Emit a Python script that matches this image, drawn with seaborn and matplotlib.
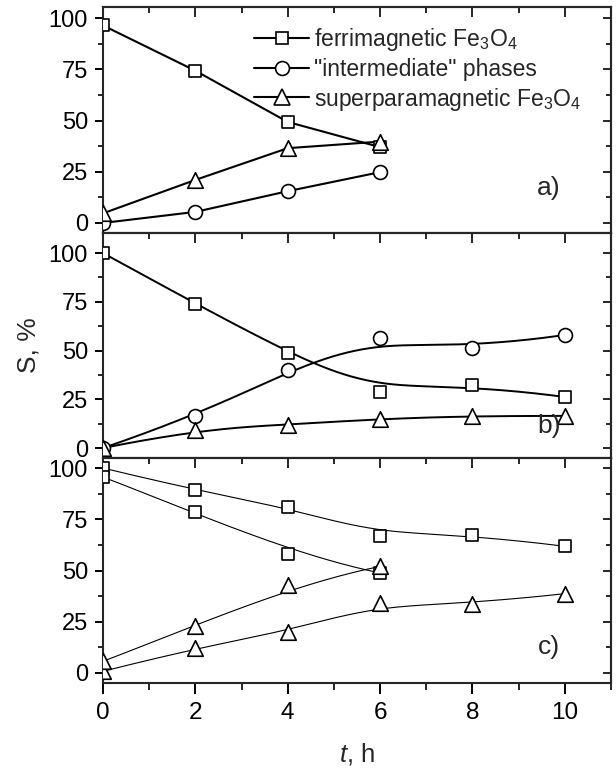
import numpy as np
import matplotlib
matplotlib.use("Agg")
import matplotlib.pyplot as plt
from matplotlib.lines import Line2D
from matplotlib.ticker import MultipleLocator, NullFormatter
import seaborn as sns

# --- data (S, % vs t, h) ---
t_a = [0, 2, 4, 6]
ferri_a = [96.4, 74.3, 49.3, 37.0]
inter_a = [0.0, 5.4, 15.5, 24.8]
super_a = [4.7, 21.0, 36.5, 39.7]

t_b = [0, 2, 4, 6, 8, 10]
ferri_b = [100.0, 74.1, 48.6, 28.7, 32.5, 26.2]
inter_b = [0.0, 16.3, 39.8, 56.3, 51.2, 58.0]
super_b = [0.0, 9.5, 12.0, 15.0, 16.5, 16.5]

t_c_long = [0, 2, 4, 6, 8, 10]
ferri_c_long = [100.0, 89.1, 81.0, 67.0, 67.5, 61.8]
super_c_long = [0.8, 12.2, 20.0, 34.1, 33.7, 38.7]
t_c_short = [0, 2, 4, 6]
ferri_c_short = [95.6, 78.4, 58.2, 48.8]
super_c_short = [5.7, 22.8, 42.8, 52.0]

labels = ["ferrimagnetic Fe$_3$O$_4$", '"intermediate" phases',
          "superparamagnetic Fe$_3$O$_4$"]
panel_tags = ["a)", "b)", "c)"]

sns.set_theme(style="ticks")
plt.rcParams["font.family"] = ["Liberation Sans", "DejaVu Sans"]
plt.rcParams["mathtext.fontset"] = "custom"
plt.rcParams["mathtext.rm"] = "Liberation Sans"
plt.rcParams["mathtext.it"] = "Liberation Sans:italic"
plt.rcParams["axes.linewidth"] = 1.5

MARK = {"s": 80, "o": 100, "^": 125}


def bspline(xs, ys, num=300):
    """Clamped B-spline curve using the points as control points (Origin style)."""
    P = np.column_stack([xs, ys]).astype(float)
    n = len(P)
    k = min(3, n - 1)
    knots = np.concatenate([np.zeros(k), np.arange(n - k + 1), np.full(k, n - k)])
    u = np.linspace(0, n - k, num)
    B = np.zeros((num, len(knots) - 1))
    for i in range(len(knots) - 1):
        B[:, i] = (u >= knots[i]) & (u < knots[i + 1])
    last = np.where(knots[:-1] < knots[1:])[0][-1]
    B[u >= knots[-1], last] = 1
    for p in range(1, k + 1):
        Bn = np.zeros((num, len(knots) - 1 - p))
        for i in range(len(knots) - 1 - p):
            d1 = knots[i + p] - knots[i]
            d2 = knots[i + p + 1] - knots[i + 1]
            t1 = (u - knots[i]) / d1 * B[:, i] if d1 > 0 else 0
            t2 = (knots[i + p + 1] - u) / d2 * B[:, i + 1] if d2 > 0 else 0
            Bn[:, i] = t1 + t2
        B = Bn
    return B @ P


def draw_series(ax, x, y, marker, lw, smooth):
    if smooth:
        c = bspline(x, y)
        sns.lineplot(x=c[:, 0], y=c[:, 1], ax=ax, color="black", lw=lw,
                     estimator=None, sort=False, zorder=2)
    else:
        sns.lineplot(x=x, y=y, ax=ax, color="black", lw=lw,
                     estimator=None, sort=False, zorder=2)
    sns.scatterplot(x=x, y=y, ax=ax, marker=marker, s=MARK[marker],
                    facecolor="white", edgecolor="black", linewidth=1.2,
                    zorder=3)


fig = plt.figure(figsize=(6.16, 7.73), dpi=100)
left, width = 103 / 616, 508 / 616
H = 773
boxes = [(7, 233), (233, 458), (458, 683)]
ylims = [(-4.9, 105.4), (-5.1, 110.3), (-4.9, 104.9)]
axes = []
for (top, bot), yl in zip(boxes, ylims):
    ax = fig.add_axes([left, 1 - bot / H, width, (bot - top) / H])
    ax.set_xlim(0, 11)
    ax.set_ylim(*yl)
    axes.append(ax)

ax_a, ax_b, ax_c = axes

draw_series(ax_a, t_a, ferri_a, "s", 1.5, False)
draw_series(ax_a, t_a, inter_a, "o", 1.5, False)
draw_series(ax_a, t_a, super_a, "^", 1.5, False)

draw_series(ax_b, t_b, ferri_b, "s", 1.4, True)
draw_series(ax_b, t_b, inter_b, "o", 1.4, True)
draw_series(ax_b, t_b, super_b, "^", 1.4, True)

draw_series(ax_c, t_c_long, ferri_c_long, "s", 0.8, True)
draw_series(ax_c, t_c_short, ferri_c_short, "s", 0.8, True)
draw_series(ax_c, t_c_long, super_c_long, "^", 0.8, True)
draw_series(ax_c, t_c_short, super_c_short, "^", 0.8, True)

for i, ax in enumerate(axes):
    ax.xaxis.set_major_locator(MultipleLocator(2))
    ax.xaxis.set_minor_locator(MultipleLocator(1))
    ax.yaxis.set_major_locator(MultipleLocator(25))
    ax.yaxis.set_minor_locator(MultipleLocator(12.5))
    ax.tick_params(axis="y", which="major", direction="out", length=5.8, width=1.4,
                   labelsize=17, pad=5, colors="black")
    ax.tick_params(axis="y", which="minor", direction="out", length=3.6, width=1.4)
    ax.tick_params(axis="x", which="major", direction="out", length=8, width=1.4,
                   labelsize=17.5, pad=6, colors="black")
    ax.tick_params(axis="x", which="minor", direction="out", length=5, width=1.4)
    if i < 2:
        ax.tick_params(axis="x", which="both", bottom=False, labelbottom=False)
    ax.set_xlabel("")
    ax.set_ylabel("")
    # inward ticks on top and right
    top = ax.secondary_xaxis("top")
    top.xaxis.set_major_locator(MultipleLocator(2))
    top.xaxis.set_minor_locator(MultipleLocator(1))
    top.xaxis.set_major_formatter(NullFormatter())
    top.tick_params(which="major", direction="in", length=7, width=1.4)
    top.tick_params(which="minor", direction="in", length=4.5, width=1.4)
    right = ax.secondary_yaxis("right")
    right.yaxis.set_major_locator(MultipleLocator(25))
    right.yaxis.set_minor_locator(MultipleLocator(12.5))
    right.yaxis.set_major_formatter(NullFormatter())
    right.tick_params(which="major", direction="in", length=6, width=1.4)
    right.tick_params(which="minor", direction="in", length=3.6, width=1.4)
    ax.text(0.878, [0.20, 0.14, 0.16][i], panel_tags[i], transform=ax.transAxes,
            ha="center", va="center", fontsize=19)

ax_b.set_ylabel("S, %", fontsize=19, labelpad=6)
ax_c.set_xlabel("$t$, h", fontsize=18.5, labelpad=12)

handles = [Line2D([], [], color="black", lw=1.5, marker=m, ms=ms,
                  markerfacecolor="white", markeredgecolor="black", mew=1.2)
           for m, ms in [("s", 9), ("o", 10), ("^", 11)]]
ax_a.legend(handles, labels, loc="upper left", bbox_to_anchor=(0.28, 0.955),
            frameon=False, fontsize=16.5, handlelength=2.4, handletextpad=0.2,
            labelspacing=0.2, borderaxespad=0)

fig.savefig("out.png", dpi=100)
